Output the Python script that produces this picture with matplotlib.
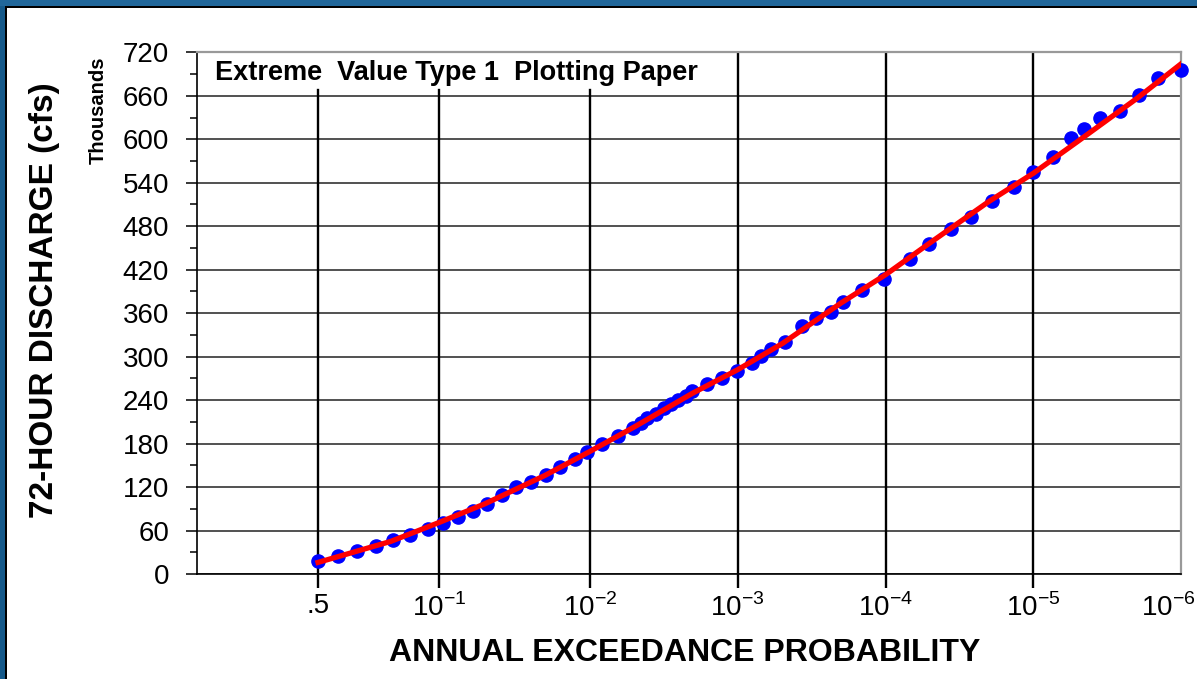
import numpy as np
import matplotlib
matplotlib.use('Agg')
from matplotlib import pyplot as plt
from matplotlib.patches import Rectangle
from matplotlib.ticker import FixedLocator, MultipleLocator, NullLocator
from matplotlib.transforms import ScaledTranslation

plt.rcParams['font.family'] = ['Liberation Sans', 'DejaVu Sans']
plt.rcParams['mathtext.fontset'] = 'custom'
plt.rcParams['mathtext.rm'] = 'Liberation Sans'
plt.rcParams['mathtext.bf'] = 'Liberation Sans:bold'

# plotted points: annual exceedance probability vs 72-hour discharge (thousand cfs)
aep = [0.498, 0.396, 0.313, 0.245, 0.193, 0.152, 0.118, 0.0941, 0.0750, 0.0603,
       0.0489, 0.0389, 0.0311, 0.0246, 0.0197, 0.0159, 0.01265, 0.01036,
       0.00823, 0.00647, 0.00512, 0.00453, 0.00409, 0.00358, 0.00315, 0.00283,
       0.00255, 0.00224, 0.00203, 0.00162, 0.00128, 0.00101,
       7.96e-4, 6.91e-4, 5.92e-4, 4.81e-4, 3.65e-4, 2.97e-4, 2.35e-4, 1.94e-4,
       1.44e-4, 1.02e-4, 6.87e-5, 5.08e-5, 3.63e-5, 2.64e-5, 1.90e-5, 1.36e-5,
       1.005e-5, 7.38e-6, 5.59e-6, 4.57e-6, 3.52e-6, 2.58e-6, 1.91e-6, 1.44e-6,
       1.0e-6]
flow = [18.4, 24.8, 32.2, 38.6, 46.9, 53.8, 62.5, 70.0, 79.1, 86.5,
        96.6, 109.4, 119.7, 126.6, 136.6, 147.3, 158.3, 168.8,
        180.1, 190.4, 201.5, 208.4, 214.9, 220.8, 228.7, 234.6,
        240.1, 246.1, 252.6, 262.2, 270.1, 280.6,
        291.6, 300.2, 310.1, 320.6, 341.6, 352.9, 362.0, 375.8,
        391.9, 406.7, 434.7, 455.0, 476.1, 493.1, 514.8, 534.5,
        555.2, 575.9, 601.3, 614.6, 630.0, 638.6, 661.1, 684.1,
        695.2]

# fitted frequency curve
curve_aep = [0.5, 0.2, 0.1, 0.05, 0.02, 0.01, 0.005, 0.002, 0.001,
             5e-4, 2e-4, 1e-4, 5e-5, 2e-5, 1e-5, 5e-6, 2e-6, 1e-6]
curve_flow = [16, 45, 71, 97, 136, 169, 203, 250, 282,
              318, 374, 413, 457, 514, 553, 597, 656, 704]

prob_ticks = [0.5, 0.1, 1e-2, 1e-3, 1e-4, 1e-5, 1e-6]
prob_labels = ['.5', '$10^{-1}$', '$10^{-2}$', '$10^{-3}$', '$10^{-4}$',
               '$10^{-5}$', '$10^{-6}$']


def gumbel(p):
    p = np.clip(np.asarray(p, dtype=float), 1e-300, 1 - 1e-16)
    return -np.log(-np.log1p(-p))


def gumbel_inv(y):
    return -np.expm1(-np.exp(-np.asarray(y, dtype=float)))


fig = plt.figure(figsize=(11.97, 6.79), dpi=100)
fig.patch.set_facecolor('white')

# blue frame on the left and top edges
fig.add_artist(Rectangle((0, 0), 5 / 1197, 1, transform=fig.transFigure,
                         facecolor='#15598a', edgecolor='none'))
fig.add_artist(Rectangle((0, 1 - 6 / 679), 1, 6 / 679, transform=fig.transFigure,
                         facecolor='#21679a', edgecolor='none'))
fig.add_artist(Rectangle((5 / 1197, 0), 1.5 / 1197, 1 - 6 / 679,
                         transform=fig.transFigure, facecolor='black', edgecolor='none'))
fig.add_artist(Rectangle((5 / 1197, 1 - 7.5 / 679), 1, 1.5 / 679,
                         transform=fig.transFigure, facecolor='black', edgecolor='none'))

ax = fig.add_axes([197 / 1197, 1 - 574 / 679, 984 / 1197, (574 - 52.3) / 679])
ax.set_xscale('function', functions=(gumbel, gumbel_inv))
ax.set_xlim(1e-6, gumbel_inv(-1.52))
ax.set_ylim(0, 720)

# horizontal grid every 60
ax.yaxis.set_major_locator(MultipleLocator(60))
ax.yaxis.set_minor_locator(MultipleLocator(30))
ax.yaxis.grid(True, which='major', color='#222222', linewidth=1.1, zorder=1)
ax.set_axisbelow(True)

# vertical grid, stopped short under the title for the first three lines
title_bottom = 668 / 720
for p in prob_ticks[:-1]:
    top = title_bottom if p > 1e-3 else 1
    ax.axvline(p, ymin=0, ymax=top, color='black', linewidth=1.7, zorder=1)

ax.xaxis.set_major_locator(FixedLocator(prob_ticks))
ax.xaxis.set_minor_locator(NullLocator())
ax.set_xticklabels(prob_labels)
ax.tick_params(axis='x', which='major', direction='out', length=10, width=1.7,
               pad=4, labelsize=20)
ax.xaxis.get_major_ticks()[-1].tick1line.set_visible(False)
ax.tick_params(axis='y', which='major', direction='out', length=8, width=1.1,
               pad=12, labelsize=20)
ax.tick_params(axis='y', which='minor', direction='out', length=5, width=1.1)
ax.tick_params(top=False, right=False)

# last label sits against the right edge of the figure
last = ax.get_xticklabels()[-1]
last.set_horizontalalignment('right')
last.set_transform(last.get_transform() + ScaledTranslation(0.15, 0, fig.dpi_scale_trans))

for side in ['left', 'bottom']:
    ax.spines[side].set_color('black')
    ax.spines[side].set_linewidth(1.2)
for side in ['top', 'right']:
    ax.spines[side].set_color('#999999')
    ax.spines[side].set_linewidth(1.6)

ax.plot(aep, flow, 'o', color='#0000ff', markersize=9.5, zorder=3, clip_on=False)
ax.plot(curve_aep, curve_flow, '-', color='#ff0000', linewidth=3.8, zorder=4)

ax.text(0.018, 691, 'Extreme  Value Type 1  Plotting Paper',
        transform=ax.get_yaxis_transform(), fontsize=19.5, fontweight='bold',
        ha='left', va='center', zorder=5)

fig.text(45 / 1197, 1 - 300 / 679, '72-HOUR DISCHARGE (cfs)', rotation=90,
         fontsize=24, fontweight='bold', ha='center', va='center')
fig.text(98 / 1197, 1 - 110 / 679, 'Thousands', rotation=90,
         fontsize=14.5, fontweight='bold', ha='center', va='center')
fig.text(685 / 1197, 1 - 653 / 679, 'ANNUAL EXCEEDANCE PROBABILITY',
         fontsize=23, fontweight='bold', ha='center', va='center')

fig.savefig('out.png', dpi=100)
